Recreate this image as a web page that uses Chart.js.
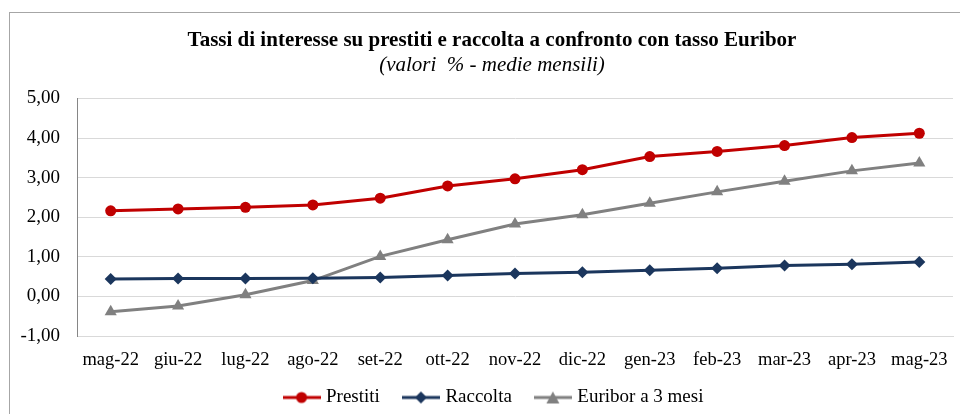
<!DOCTYPE html>
<html>
<head>
<meta charset="utf-8">
<script src="https://cdn.jsdelivr.net/npm/chart.js@4"></script>
<style>
    html, body { margin: 0; padding: 0; background: #fff; overflow: hidden; width: 960px; height: 414px; }
    #frame { position: absolute; left: 9px; top: 12px; width: 1000px; height: 500px; border: 1px solid #a6a6a6; }
    #wrap { position: absolute; left: 0; top: 0; width: 990px; height: 426px; }
</style>
</head>
<body>
<div id="frame"></div>
<div id="wrap"><canvas id="mainChart"></canvas></div>
<script>
const months = ["mag-22", "giu-22", "lug-22", "ago-22", "set-22", "ott-22", "nov-22", "dic-22", "gen-23", "feb-23", "mar-23", "apr-23", "mag-23"];
const prestiti = [2.16, 2.21, 2.25, 2.31, 2.48, 2.79, 2.97, 3.20, 3.53, 3.66, 3.81, 4.01, 4.12];
const raccolta = [0.44, 0.45, 0.45, 0.46, 0.48, 0.53, 0.58, 0.61, 0.66, 0.71, 0.78, 0.81, 0.87];
const euribor = [-0.39, -0.24, 0.04, 0.40, 1.01, 1.43, 1.83, 2.06, 2.35, 2.64, 2.91, 3.17, 3.37];
const yTicks = [-1, 0, 1, 2, 3, 4, 5];

const titleText = "Tassi di interesse su prestiti e raccolta a confronto con tasso Euribor";
const subtitleText = "(valori  % - medie mensili)";
const serif = "'Liberation Serif', 'Times New Roman', serif";

// legend swatch: short line with the marker in the middle
function legendSwatch(color, shape) {
    const c = document.createElement("canvas");
    c.width = 38;
    c.height = 14;
    const g = c.getContext("2d");
    g.strokeStyle = color;
    g.fillStyle = color;
    g.lineWidth = 3;
    g.beginPath();
    g.moveTo(0, 7);
    g.lineTo(38, 7);
    g.stroke();
    g.beginPath();
    if (shape === "circle") {
        g.arc(19, 7, 5.5, 0, Math.PI * 2);
    } else if (shape === "diamond") {
        g.moveTo(19, 1); g.lineTo(25, 7); g.lineTo(19, 13); g.lineTo(13, 7);
    } else {
        g.moveTo(19, 1); g.lineTo(25.5, 13); g.lineTo(12.5, 13);
    }
    g.closePath();
    g.fill();
    return c;
}

function lineSeries(label, data, color, pointStyle, radius, shape) {
    return {
        label,
        data,
        borderColor: color,
        backgroundColor: color,
        borderWidth: 3,
        pointStyle,
        pointRadius: radius,
        pointHoverRadius: radius,
        pointBorderWidth: 0,
        tension: 0,
        legendImage: legendSwatch(color, shape),
    };
}

// title, subtitle and legend sit a bit right of the canvas middle in the original,
// and the legend row is a little closer to the axis labels
const boxPlacement = {
    id: "boxPlacement",
    afterLayout(chart) {
        chart.boxes.forEach((box) => {
            let target = null;
            if (box === chart.legend) {
                target = 495;
                box.top -= 9;
                box.bottom -= 9;
            } else if (box.options && (box.options.text === titleText || box.options.text === subtitleText)) {
                target = 492;
            }
            if (target === null) return;
            const d = target - (box.left + box.right) / 2;
            box.left += d;
            box.right += d;
        });
    },
};

const ctx = document.getElementById("mainChart").getContext("2d");
new Chart(ctx, {
    type: "line",
    data: {
        labels: months,
        datasets: [
            lineSeries("Prestiti", prestiti, "#C00000", "circle", 5.5, "circle"),
            lineSeries("Raccolta", raccolta, "#1B365D", "rectRot", 6, "diamond"),
            lineSeries("Euribor a 3 mesi", euribor, "#808080", "triangle", 7, "triangle"),
        ],
    },
    plugins: [boxPlacement],
    options: {
        responsive: true,
        maintainAspectRatio: false,
        animation: false,
        layout: { padding: { left: 10, right: 37, top: 19, bottom: 0 } },
        plugins: {
            title: {
                display: true,
                text: titleText,
                color: "#000",
                font: { family: serif, size: 21, weight: "bold" },
                padding: { top: 9, bottom: 0 },
            },
            subtitle: {
                display: true,
                text: subtitleText,
                color: "#000",
                font: { family: serif, size: 21, style: "italic" },
                padding: { top: 0, bottom: 20 },
            },
            legend: {
                position: "bottom",
                labels: {
                    color: "#000",
                    font: { family: serif, size: 19 },
                    usePointStyle: true,
                    pointStyleWidth: 30,
                    boxHeight: 14,
                    padding: 26,
                    generateLabels: (chart) =>
                        chart.data.datasets.map((ds, i) => ({
                            text: ds.label,
                            pointStyle: ds.legendImage,
                            fillStyle: ds.borderColor,
                            strokeStyle: ds.borderColor,
                            lineWidth: 0,
                            fontColor: "#000",
                            datasetIndex: i,
                            hidden: false,
                        })),
                },
            },
            tooltip: { enabled: false },
        },
        scales: {
            x: {
                offset: true,
                grid: { display: false, drawTicks: false },
                border: { color: "#d9d9d9", width: 1 },
                ticks: { color: "#000", font: { family: serif, size: 18.5 }, padding: 13, maxRotation: 0, autoSkip: false },
                afterFit: (scale) => { scale.height = 35; },
            },
            y: {
                min: -1,
                max: 5,
                afterBuildTicks: (scale) => { scale.ticks = yTicks.map((v) => ({ value: v })); },
                grid: { color: "#d9d9d9", lineWidth: 1, drawTicks: false },
                border: { color: "#868686", width: 1 },
                ticks: {
                    color: "#000",
                    font: { family: serif, size: 19 },
                    padding: 17,
                    callback: (v) => v.toFixed(2).replace(".", ","),
                },
                afterFit: (scale) => { scale.width = 67; },
            },
        },
    },
});
</script>
</body>
</html>
